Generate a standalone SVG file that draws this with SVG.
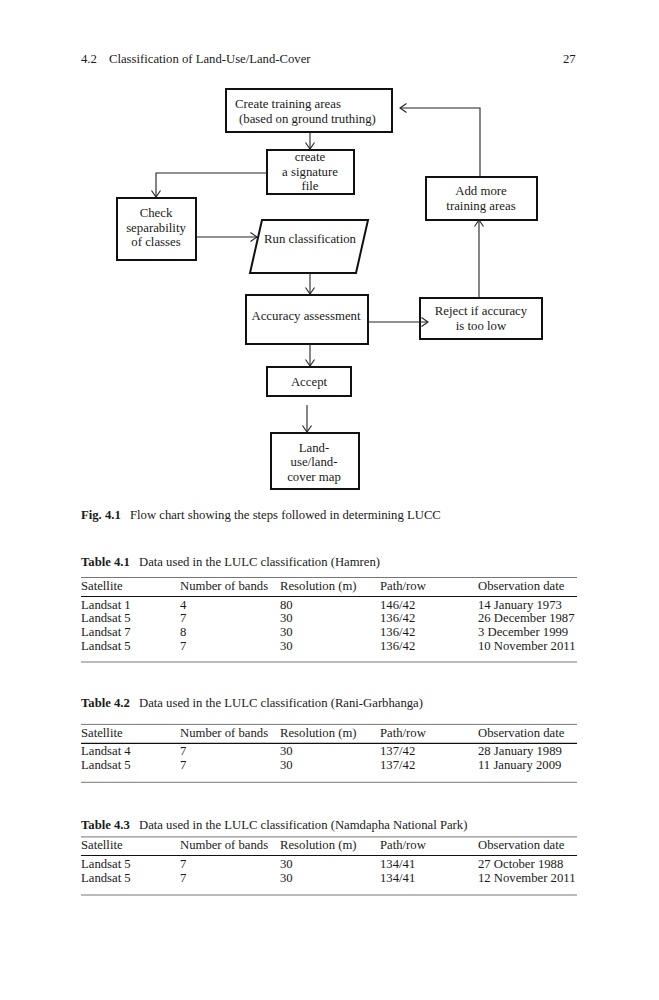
<svg xmlns="http://www.w3.org/2000/svg" width="659" height="1000" viewBox="0 0 659 1000">
<style>
text{font-family:"Liberation Serif","Times New Roman",serif;fill:#1a1a1a}
.t{font-size:12.7px}
.f{font-size:12.8px}
.c{text-anchor:middle}
.b{font-weight:bold}
.box{fill:#fff;stroke:#111;stroke-width:2}
.ln{fill:none;stroke:#222;stroke-width:1.1}
.rl{stroke:#666;stroke-width:0.9}
.rh{stroke:#111;stroke-width:1.1}
</style>
<defs>
<marker id="ah" viewBox="-8 -6 10 12" markerWidth="10" markerHeight="12" refX="0" refY="0" orient="auto" markerUnits="userSpaceOnUse">
<path d="M-6.5,-4.5 L0,0 L-6.5,4.5" fill="none" stroke="#222" stroke-width="1.1"/>
</marker>
</defs>
<rect width="659" height="1000" fill="#fff"/>
<g id="header">
<text class="t" x="81" y="63">4.2</text>
<text class="t" x="109" y="63">Classification of Land-Use/Land-Cover</text>
<text class="t" x="563" y="63">27</text>
</g>
<g id="n-create-training">
<rect class="box" x="226" y="89" width="166" height="43"/>
<text class="f" x="235" y="107.5">Create training areas</text>
<text class="f" x="239" y="122.5">(based on ground truthing)</text>
</g>
<g id="n-signature">
<rect class="box" x="267" y="150" width="87" height="44"/>
<text class="f c" x="310" y="161">create</text>
<text class="f c" x="310" y="175.5">a signature</text>
<text class="f c" x="310" y="190">file</text>
</g>
<g id="n-check">
<rect class="box" x="117" y="198" width="79" height="62"/>
<text class="f c" x="156" y="217">Check</text>
<text class="f c" x="156" y="232">separability</text>
<text class="f c" x="156" y="246">of classes</text>
</g>
<g id="n-run">
<polygon class="box" points="262,220 368,220 356,273 250,273"/>
<text class="f c" x="310" y="242.5">Run classification</text>
</g>
<g id="n-add">
<rect class="box" x="426" y="177" width="111" height="43"/>
<text class="f c" x="481" y="195">Add more</text>
<text class="f c" x="481" y="210">training areas</text>
</g>
<g id="n-accuracy">
<rect class="box" x="246" y="295" width="122" height="49"/>
<text class="f c" x="306" y="319.5">Accuracy assessment</text>
</g>
<g id="n-reject">
<rect class="box" x="420" y="298" width="122" height="41"/>
<text class="f c" x="481" y="315">Reject if accuracy</text>
<text class="f c" x="481" y="329.5">is too low</text>
</g>
<g id="n-accept">
<rect class="box" x="267" y="367" width="84" height="29"/>
<text class="f c" x="309" y="385.5">Accept</text>
</g>
<g id="n-map">
<rect class="box" x="271" y="433" width="88" height="56"/>
<text class="f c" x="314" y="452">Land-</text>
<text class="f c" x="314" y="466">use/land-</text>
<text class="f c" x="314" y="480.5">cover map</text>
</g>
<g id="connectors">
<path class="ln" d="M310,132 V149" marker-end="url(#ah)"/>
<path class="ln" d="M267,173 H156 V197" marker-end="url(#ah)"/>
<path class="ln" d="M196,237 H257" marker-end="url(#ah)"/>
<path class="ln" d="M310,273 V294" marker-end="url(#ah)"/>
<path class="ln" d="M368,322 H428" marker-end="url(#ah)"/>
<path class="ln" d="M479,298 V220" marker-end="url(#ah)"/>
<path class="ln" d="M480,177 V108 H400" marker-end="url(#ah)"/>
<path class="ln" d="M310,344 V366" marker-end="url(#ah)"/>
<path class="ln" d="M307,405 V432" marker-end="url(#ah)"/>
</g>
<g id="caption">
<text class="t b" x="81" y="519">Fig. 4.1</text>
<text class="t" x="130" y="519">Flow chart showing the steps followed in determining LUCC</text>
</g>
<g id="table1">
<text class="t"><tspan class="b" x="81" y="565.5">Table 4.1</tspan><tspan x="139">Data used in the LULC classification (Hamren)</tspan></text>
<line class="rl" x1="81" y1="577.5" x2="577" y2="577.5"/>
<text class="t" y="589.5"><tspan x="81">Satellite</tspan><tspan x="180">Number of bands</tspan><tspan x="280">Resolution (m)</tspan><tspan x="380">Path/row</tspan><tspan x="478">Observation date</tspan></text>
<line class="rh" x1="81" y1="596.5" x2="577" y2="596.5"/>
<text class="t" y="608.5"><tspan x="81">Landsat 1</tspan><tspan x="180">4</tspan><tspan x="280">80</tspan><tspan x="380">146/42</tspan><tspan x="478">14 January 1973</tspan></text>
<text class="t" y="622.3"><tspan x="81">Landsat 5</tspan><tspan x="180">7</tspan><tspan x="280">30</tspan><tspan x="380">136/42</tspan><tspan x="478">26 December 1987</tspan></text>
<text class="t" y="636"><tspan x="81">Landsat 7</tspan><tspan x="180">8</tspan><tspan x="280">30</tspan><tspan x="380">136/42</tspan><tspan x="478">3 December 1999</tspan></text>
<text class="t" y="649.8"><tspan x="81">Landsat 5</tspan><tspan x="180">7</tspan><tspan x="280">30</tspan><tspan x="380">136/42</tspan><tspan x="478">10 November 2011</tspan></text>
<line class="rl" x1="81" y1="662" x2="577" y2="662"/>
</g>
<g id="table2">
<text class="t"><tspan class="b" x="81" y="707.2">Table 4.2</tspan><tspan x="139">Data used in the LULC classification (Rani-Garbhanga)</tspan></text>
<line class="rl" x1="81" y1="724.4" x2="577" y2="724.4"/>
<text class="t" y="736.5"><tspan x="81">Satellite</tspan><tspan x="180">Number of bands</tspan><tspan x="280">Resolution (m)</tspan><tspan x="380">Path/row</tspan><tspan x="478">Observation date</tspan></text>
<line class="rh" x1="81" y1="743.4" x2="577" y2="743.4"/>
<text class="t" y="755.4"><tspan x="81">Landsat 4</tspan><tspan x="180">7</tspan><tspan x="280">30</tspan><tspan x="380">137/42</tspan><tspan x="478">28 January 1989</tspan></text>
<text class="t" y="769.2"><tspan x="81">Landsat 5</tspan><tspan x="180">7</tspan><tspan x="280">30</tspan><tspan x="380">137/42</tspan><tspan x="478">11 January 2009</tspan></text>
<line class="rl" x1="81" y1="782.3" x2="577" y2="782.3"/>
</g>
<g id="table3">
<text class="t"><tspan class="b" x="81" y="829">Table 4.3</tspan><tspan x="139">Data used in the LULC classification (Namdapha National Park)</tspan></text>
<line class="rl" x1="81" y1="836.9" x2="577" y2="836.9"/>
<text class="t" y="848.6"><tspan x="81">Satellite</tspan><tspan x="180">Number of bands</tspan><tspan x="280">Resolution (m)</tspan><tspan x="380">Path/row</tspan><tspan x="478">Observation date</tspan></text>
<line class="rh" x1="81" y1="855.5" x2="577" y2="855.5"/>
<text class="t" y="867.9"><tspan x="81">Landsat 5</tspan><tspan x="180">7</tspan><tspan x="280">30</tspan><tspan x="380">134/41</tspan><tspan x="478">27 October 1988</tspan></text>
<text class="t" y="881.6"><tspan x="81">Landsat 5</tspan><tspan x="180">7</tspan><tspan x="280">30</tspan><tspan x="380">134/41</tspan><tspan x="478">12 November 2011</tspan></text>
<line class="rl" x1="81" y1="895" x2="577" y2="895"/>
</g>
</svg>
